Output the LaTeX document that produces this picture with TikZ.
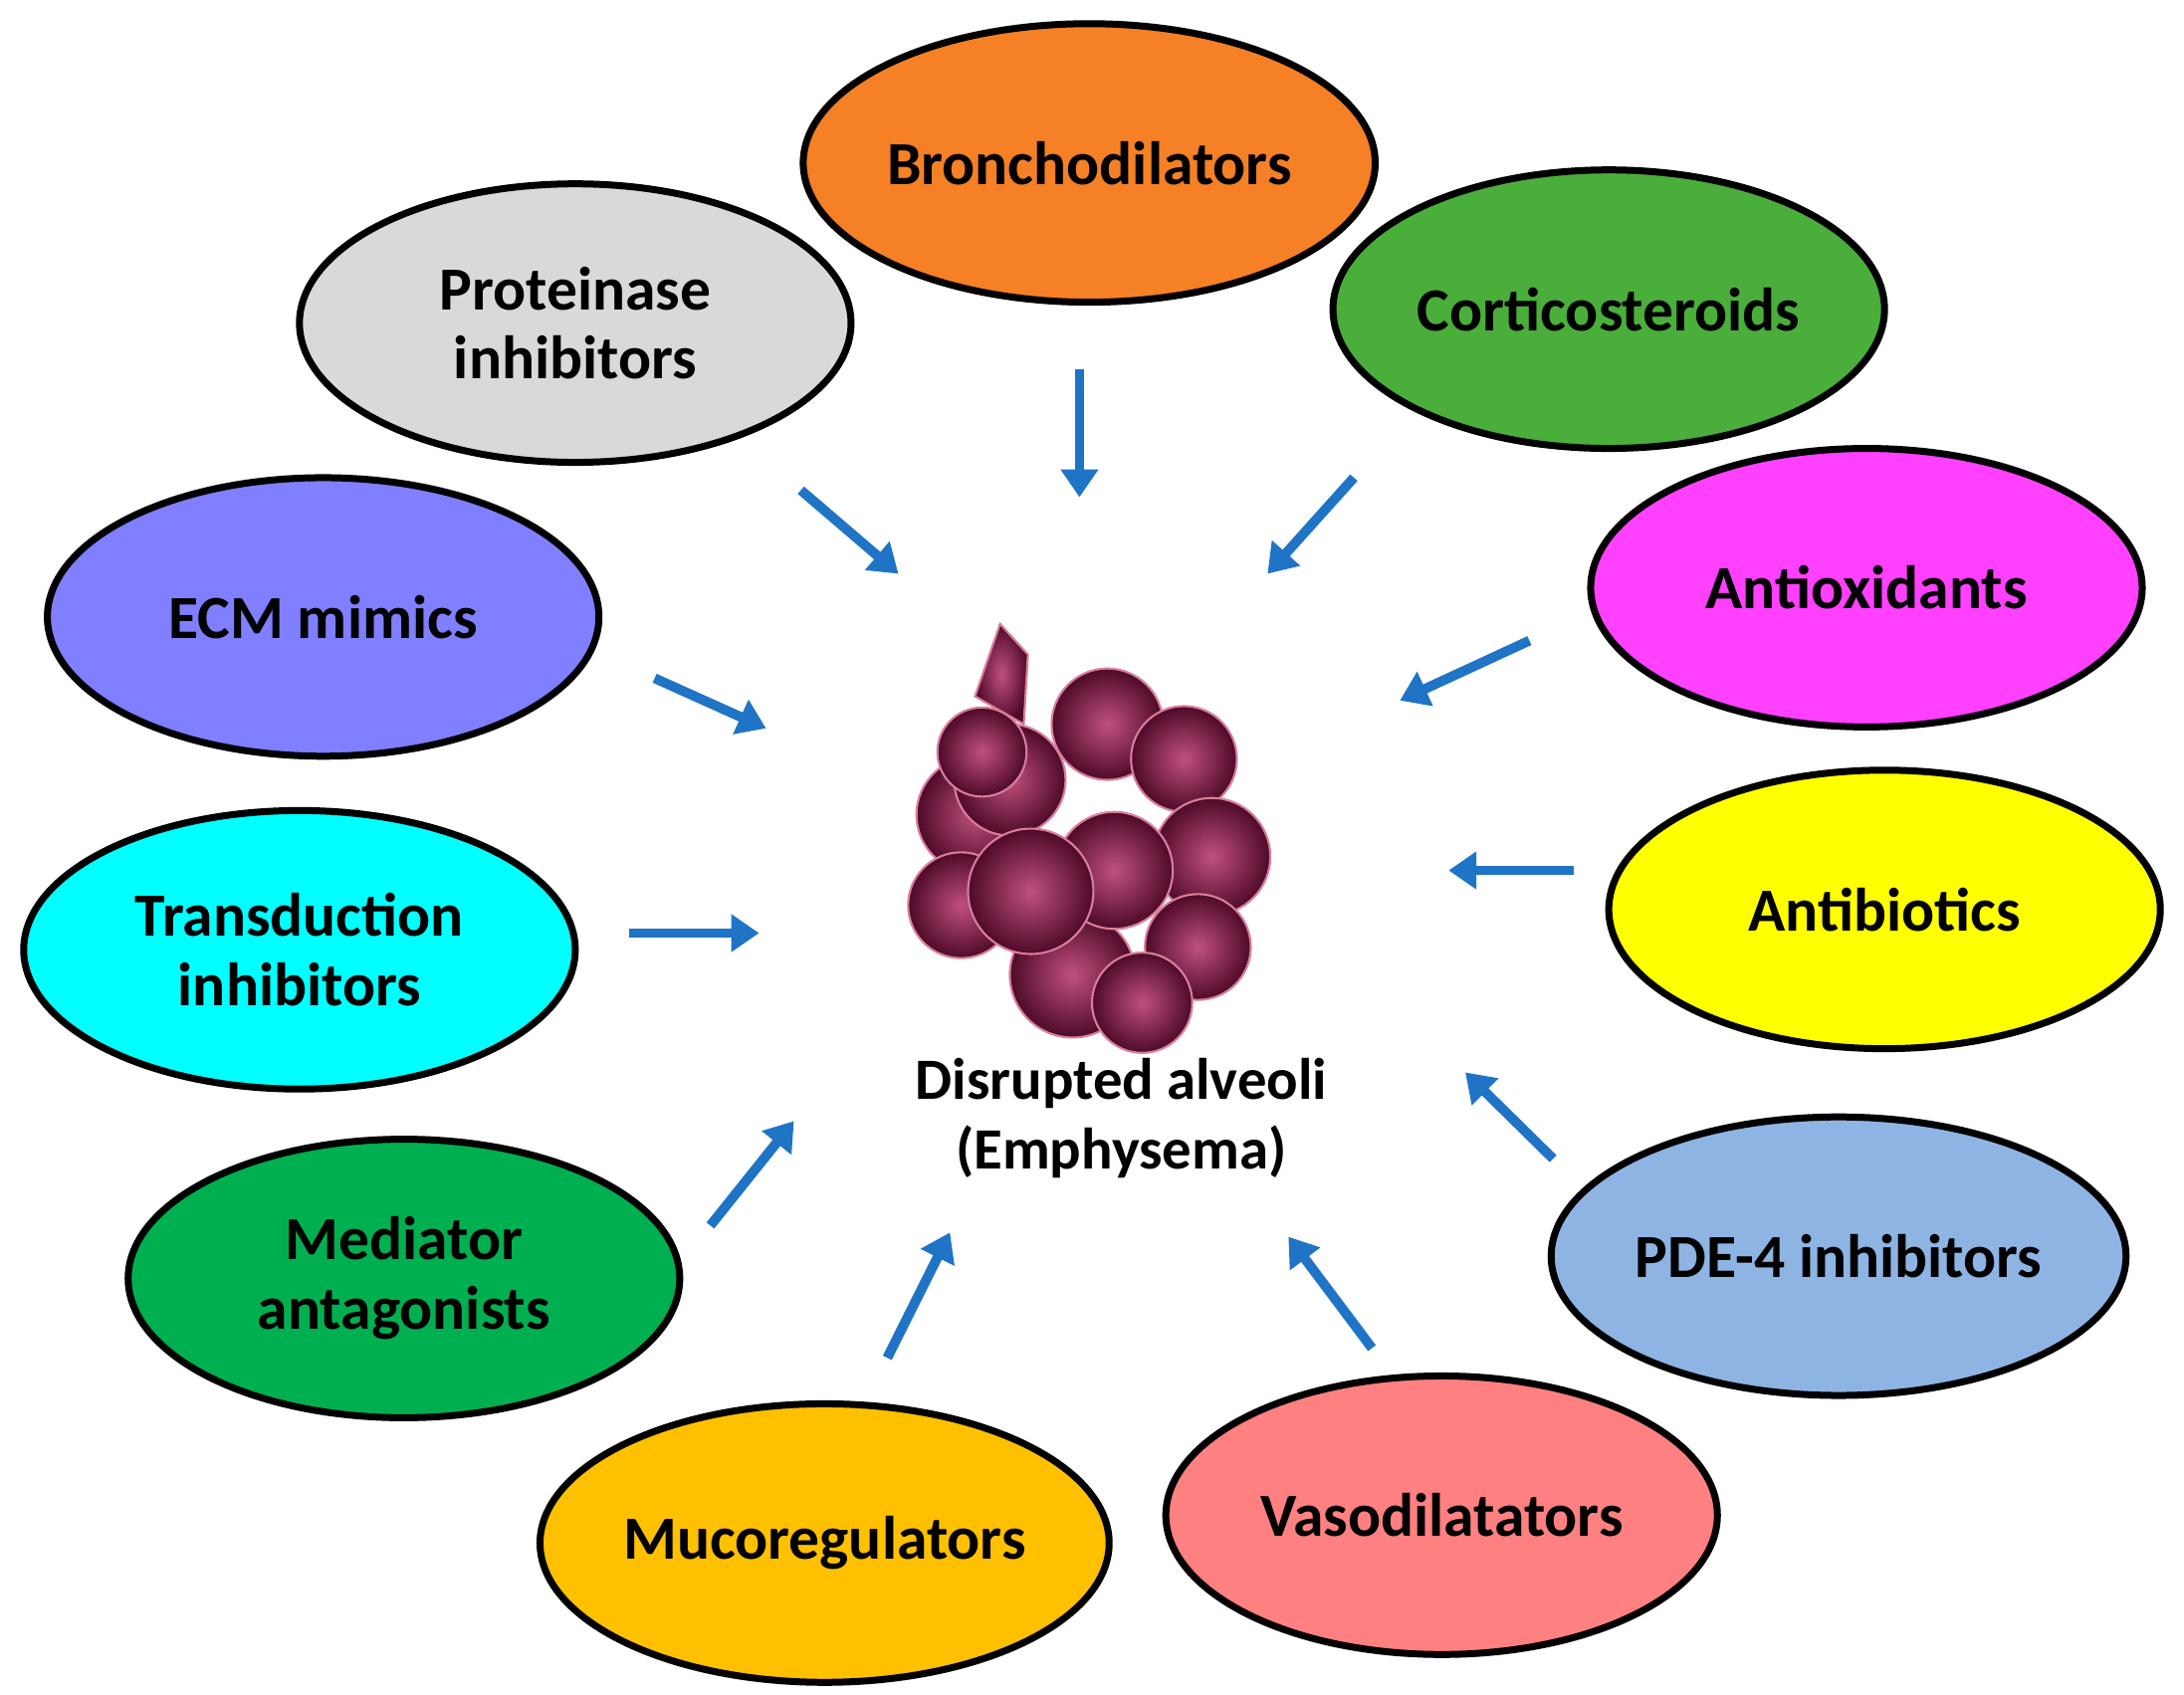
\documentclass[tikz,border=0pt]{standalone}
\usepackage{fontspec}
\setmainfont{Carlito}
\usetikzlibrary{arrows.meta,shapes.geometric}
\definecolor{arr}{HTML}{1F74C6}
\definecolor{alvd}{HTML}{4E0A28}
\definecolor{alvl}{HTML}{C0507F}
\definecolor{cbro}{HTML}{F58025}
\definecolor{ccor}{HTML}{4AAE3A}
\definecolor{cpro}{HTML}{D9D9D9}
\definecolor{cecm}{HTML}{7F7FFF}
\definecolor{cant}{HTML}{FF40FF}
\definecolor{ctra}{HTML}{00FFFF}
\definecolor{cabi}{HTML}{FFFF00}
\definecolor{cmed}{HTML}{00B050}
\definecolor{cpde}{HTML}{8EB4E3}
\definecolor{cmuc}{HTML}{FFC000}
\definecolor{cvas}{HTML}{FF8080}
\tikzset{
 drug/.style={ellipse,draw=black,line width=5pt,minimum width=396pt,minimum height=200pt,font=\fontsize{44}{50}\selectfont\bfseries,align=center,inner sep=0pt},
 arw/.style={draw=arr,line width=7pt,-{Triangle[length=20pt,width=26pt]}},
 bub/.style={inner color=alvl,outer color=alvd,draw=alvl!60!pink,line width=1.5pt}
}
\begin{document}
\begin{tikzpicture}[x=1pt,y=-1pt]
\useasboundingbox (0,0) rectangle (1568,1217);
\node[drug,fill=cbro] (bro) at (782,117) {Bronchodilators};
\node[drug,fill=ccor] (cor) at (1155,222) {Corticosteroids};
\node[drug,fill=cpro] (pro) at (413,232) {Proteinase\\inhibitors};
\node[drug,fill=cecm] (ecm) at (232,443) {ECM mimics};
\node[drug,fill=cant] (ant) at (1340,422) {Antioxidants};
\node[drug,fill=ctra] (tra) at (215,682) {Transduction\\inhibitors};
\node[drug,fill=cabi] (abi) at (1353,653) {Antibiotics};
\node[drug,fill=cmed] (med) at (290,918) {Mediator\\antagonists};
\node[drug,fill=cpde] (pde) at (1320,902) {PDE-4 inhibitors};
\node[drug,fill=cmuc] (muc) at (592,1108) {Mucoregulators};
\node[drug,fill=cvas] (vas) at (1035,1088) {Vasodilatators};
% alveoli
\fill[bub] (700,500) -- (718,448) -- (738,470) -- (735,520) -- cycle;
\foreach \x/\y/\r in {700/585/42,690/650/38,725/560/40,795/520/40,850/545/38,870/615/42,860/680/38,770/700/45,800/625/42,740/640/45,705/540/32,820/720/36}
  \shade[bub] (\x,\y) circle (\r);
\node[font=\fontsize{42}{50}\selectfont\bfseries,align=center] (lab) at (805,803) {Disrupted alveoli\\(Emphysema)};
% arrows
\foreach \a/\b/\c/\d/\n in {775/265/775/357/1,575/352/645/412/2,972/343/910/412/3,470/487/550/523/4,1098/460/1005/503/5,452/670/545/670/6,1130/625/1040/625/7,510/880/570/805/8,1115/832/1052/770/9,637/975/682/885/10,985/968/925/888/11}{
  \coordinate (s\n) at (\a,\b); \coordinate (e\n) at (\c,\d);
  \draw[arw] (s\n) -- (e\n);}
\end{tikzpicture}
\end{document}
